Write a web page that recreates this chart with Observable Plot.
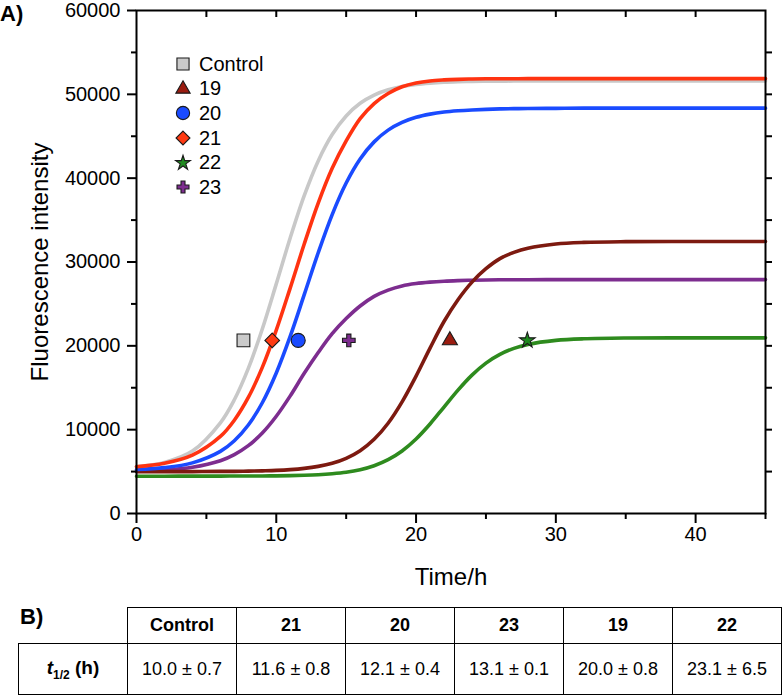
<!DOCTYPE html>
<html><head><meta charset="utf-8">
<script src="https://cdn.jsdelivr.net/npm/d3@7"></script>
<script src="https://cdn.jsdelivr.net/npm/@observablehq/plot@0.6"></script>
<style>
body{margin:0;background:#fff;font-family:"Liberation Sans",Arial,sans-serif;color:#000;}
#wrap{position:relative;width:784px;height:696px;overflow:hidden;}
#panelA{position:absolute;left:0;top:3px;font-weight:bold;font-size:22px;line-height:22px;}
#panelB{position:absolute;left:20px;top:606px;font-weight:bold;font-size:22px;line-height:22px;}
#legend{position:absolute;left:173px;top:52px;font-size:20px;}
#legend .row{display:flex;align-items:center;height:24.6px;}
#legend svg{width:20px;height:20px;margin-right:6px;overflow:visible;}
#tbl{position:absolute;left:18px;top:607px;border-collapse:collapse;table-layout:fixed;font-size:18px;}
#tbl td{border:1.5px solid #000;text-align:center;padding:0;width:108px;}
#tbl tr.h td{height:35px;font-weight:bold;}
#tbl tr.d td{height:50px;}
#tbl td.empty{border:none;}
</style></head><body><div id="wrap"></div>
<script>
// ---- data ----
const times = [0,2,4,6,7,8,9,10,11,12,13,14,15,16,17,18,19,20,21,22,23,24,25,26,27,28,30,32,35,40,45];
const seriesNames = ["Control","19","20","21","22","23"];
const valuesControl = [5600,6100,7450,10820,13570,17310,22010,27390,32890,37910,42060,45200,47420,48930,49910,50540,50940,51190,51340,51440,51500,51540,51560,51575,51585,51590,51595,51600,51600,51600,51600];
const values19 = [5000,5000,5000,5020,5030,5050,5090,5140,5230,5380,5620,5990,6580,7490,8850,10770,13320,16390,19730,22900,25500,27600,29200,30400,31150,31650,32150,32340,32425,32450,32450];
const values20 = [5250,5470,6040,7410,8680,10560,13210,16760,21150,26100,31100,35660,39420,42290,44330,45730,46650,47260,47640,47890,48040,48140,48210,48260,48290,48310,48330,48350,48350,48350,48350];
const values21 = [5580,5990,6960,9190,11130,13840,17430,21870,26920,32140,37020,41170,44440,47100,48900,50100,50900,51350,51600,51720,51790,51830,51850,51860,51865,51870,51870,51870,51870,51870,51870];
const values22 = [4450,4450,4460,4460,4470,4470,4480,4490,4520,4560,4630,4750,4930,5230,5700,6420,7460,8890,10680,12700,14720,16510,17940,18980,19700,20170,20650,20840,20930,20950,20950];
const values23 = [5080,5200,5520,6300,7030,8090,9600,11600,14030,16720,19200,21450,23250,24750,25900,26650,27150,27430,27600,27710,27780,27830,27860,27875,27885,27890,27900,27900,27900,27900,27900];
const markerTimes = [7.65, 22.42, 11.57, 9.71, 27.96, 15.19];
const markerValues = [20650, 20650, 20650, 20650, 20650, 20650];
const xMajorTicks = [0,10,20,30,40];
const xMinorTicks = [5,15,25,35,45];
const xTopTicks = [5,10,15,20,25,30,35,40];
const yMajorTicks = [0,10000,20000,30000,40000,50000,60000];
const yMinorTicks = [5000,15000,25000,35000,45000,55000];
const yRightTicks = [5000,10000,15000,20000,25000,30000,35000,40000,45000,50000,55000];
const tableHeads = ["Control","21","20","23","19","22"];
const tableValues = ["10.0 ± 0.7","11.6 ± 0.8","12.1 ± 0.4","13.1 ± 0.1","20.0 ± 0.8","23.1 ± 6.5"];

// ---- styles ----
const allValues = [valuesControl, values19, values20, values21, values22, values23];
const styles = [
  {line:"#c8c8c8", fill:"#cacaca", symbol:"square",   r:7.2},
  {line:"#7d1a10", fill:"#9a1c10", symbol:"triangle", r:5.6},
  {line:"#1a4bff", fill:"#1a4bff", symbol:"circle",   r:7},
  {line:"#ff3311", fill:"#ff3a12", symbol:"diamond2", r:6.6},
  {line:"#2e8b1e", fill:"#1f8a1f", symbol:"star",     r:4.9},
  {line:"#7d2d8f", fill:"#7d2d8f", symbol:"cross",    r:5.3}
];
const drawOrder = [0,5,1,4,2,3];

const marks = [];
for (const i of drawOrder) {
  const rows = times.map((t, j) => ({t, v: allValues[i][j]}));
  marks.push(Plot.line(rows, {x:"t", y:"v", stroke: styles[i].line, strokeWidth: 3.6, curve:"catmull-rom"}));
}
for (const i of drawOrder) {
  marks.push(Plot.dot([{t: markerTimes[i], v: markerValues[i]}], {x:"t", y:"v", symbol: styles[i].symbol, r: styles[i].r, fill: styles[i].fill, stroke:"#1a1a1a", strokeWidth: 1.1}));
}
marks.push(
  Plot.frame({stroke:"#000", strokeWidth: 2}),
  Plot.axisX(xMajorTicks, {anchor:"bottom", tickSize:10, tickPadding:3, strokeWidth:2, fontSize:20, label:null}),
  Plot.axisX(xMinorTicks, {anchor:"bottom", tickSize:6, strokeWidth:2, fill:"none", label:null}),
  Plot.axisX(xTopTicks, {anchor:"top", tickSize:6, dy:6, strokeWidth:2, fill:"none", label:null}),
  Plot.axisX([], {anchor:"bottom", tickSize:0, fontSize:24, label:"Time/h", labelAnchor:"center", labelArrow:"none", labelOffset:71}),
  Plot.axisY(yMajorTicks, {anchor:"left", tickSize:9, tickPadding:7, strokeWidth:2, fontSize:20, tickFormat:d3.format("d"), label:null}),
  Plot.axisY(yMinorTicks, {anchor:"left", tickSize:5, strokeWidth:2, fill:"none", label:null}),
  Plot.axisY(yRightTicks, {anchor:"right", tickSize:6, strokeWidth:2, fill:"none", label:null}),
  Plot.axisY([], {anchor:"left", tickSize:0, fontSize:24, label:"Fluorescence intensity", labelAnchor:"center", labelArrow:"none", labelOffset:106})
);

const chart = Plot.plot({
  width: 784, height: 600,
  marginLeft: 136, marginRight: 19, marginTop: 10, marginBottom: 87,
  x: {domain:[0,45]},
  y: {domain:[0,60000]},
  style: {fontFamily:"'Liberation Sans', Arial, sans-serif", color:"#000", background:"transparent", overflow:"visible"},
  marks
});

const wrap = document.getElementById("wrap");
wrap.appendChild(chart);

const a = document.createElement("div"); a.id = "panelA"; a.textContent = "A)"; wrap.appendChild(a);
const b = document.createElement("div"); b.id = "panelB"; b.textContent = "B)"; wrap.appendChild(b);

// legend
const symMap = {square:d3.symbolSquare, triangle:d3.symbolTriangle, circle:d3.symbolCircle, diamond2:d3.symbolDiamond2, star:d3.symbolStar, cross:d3.symbolCross};
const leg = document.createElement("div"); leg.id = "legend";
seriesNames.forEach((name, i) => {
  const row = document.createElement("div"); row.className = "row";
  const s = styles[i];
  const path = d3.symbol(symMap[s.symbol], Math.PI * s.r * s.r * 0.9)();
  row.innerHTML = `<svg viewBox="-10 -10 20 20"><path d="${path}" fill="${s.fill}" stroke="#1a1a1a" stroke-width="1.1"/></svg><span>${name}</span>`;
  leg.appendChild(row);
});
wrap.appendChild(leg);

// table
const tbl = document.createElement("table"); tbl.id = "tbl";
const hr = document.createElement("tr"); hr.className = "h";
hr.innerHTML = `<td class="empty"></td>` + tableHeads.map(h => `<td>${h}</td>`).join("");
const dr = document.createElement("tr"); dr.className = "d";
dr.innerHTML = `<td style="font-weight:bold;font-size:19px"><i>t</i><sub style="font-size:12px">1/2</sub> (h)</td>` + tableValues.map(v => `<td>${v}</td>`).join("");
tbl.appendChild(hr); tbl.appendChild(dr);
wrap.appendChild(tbl);
</script></body></html>
